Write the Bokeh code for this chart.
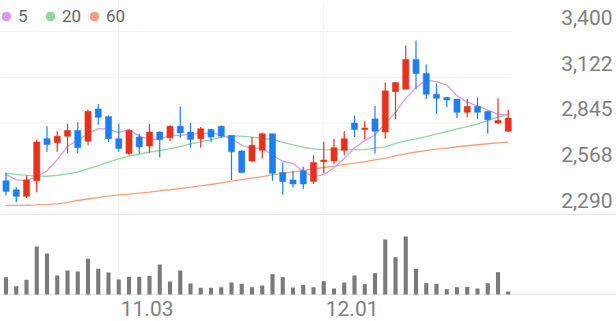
from bokeh.plotting import figure
from bokeh.models import Range1d, ColumnDataSource, Legend, LegendItem
from bokeh.core.properties import value
from bokeh.embed import file_html
from bokeh.resources import INLINE

# ---------------- data ----------------
opens = [2495, 2440, 2400, 2495, 2750, 2725, 2765, 2800, 2735, 2930,
         2885, 2750, 2660, 2760, 2705, 2790, 2755, 2825, 2790, 2750,
         2805, 2825, 2770, 2675, 2615, 2680, 2780, 2545, 2500, 2555,
         2490, 2610, 2615, 2680, 2845, 2805, 2870, 2790, 3035, 3050,
         3230, 3145, 3020, 3000, 2990, 2910, 2945, 2915, 2845, 2795]
highs = [2545, 2455, 2525, 2745, 2825, 2795, 2840, 2850, 2925, 2960,
         2890, 2840, 2805, 2780, 2840, 2795, 2830, 2945, 2845, 2820,
         2810, 2830, 2770, 2680, 2760, 2785, 2780, 2605, 2555, 2580,
         2650, 2730, 2750, 2795, 2890, 2855, 2950, 3090, 3090, 3315,
         3345, 3200, 3085, 3000, 2990, 2990, 3000, 2920, 2995, 2925]
lows = [2405, 2365, 2390, 2425, 2670, 2670, 2660, 2660, 2710, 2835,
        2730, 2670, 2650, 2660, 2665, 2635, 2735, 2755, 2695, 2695,
        2730, 2755, 2500, 2545, 2605, 2630, 2495, 2410, 2455, 2445,
        2475, 2540, 2595, 2650, 2760, 2745, 2660, 2750, 2870, 3050,
        3050, 2990, 2900, 2940, 2875, 2880, 2870, 2780, 2840, 2790]
closes = [2430, 2400, 2500, 2730, 2715, 2765, 2800, 2695, 2915, 2880,
          2750, 2690, 2800, 2700, 2790, 2745, 2825, 2785, 2745, 2810,
          2760, 2765, 2670, 2545, 2710, 2780, 2540, 2490, 2475, 2475,
          2605, 2620, 2695, 2750, 2805, 2815, 2795, 3040, 3090, 3230,
          3145, 3020, 2995, 2985, 2910, 2945, 2910, 2865, 2860, 2875]
volumes = [520, 250, 440, 1440, 1230, 570, 720, 690, 1070, 770,
           660, 450, 530, 530, 560, 900, 390, 720, 330, 200,
           200, 220, 360, 320, 220, 270, 610, 520, 210, 290,
           220, 400, 180, 360, 570, 310, 640, 1650, 1120, 1740,
           770, 340, 320, 160, 220, 230, 180, 340, 670, 90]
ma5 = [2533, 2500, 2496, 2520, 2555, 2622, 2702, 2741, 2778, 2811,
       2808, 2786, 2807, 2764, 2746, 2745, 2772, 2769, 2778, 2782,
       2785, 2773, 2750, 2710, 2690, 2694, 2649, 2613, 2599, 2552,
       2517, 2533, 2574, 2629, 2695, 2737, 2772, 2841, 2909, 2994,
       3060, 3105, 3096, 3075, 3011, 2971, 2949, 2923, 2898, 2891]
ma20 = [2540, 2533, 2527, 2523, 2522, 2527, 2537, 2548, 2567, 2587,
        2607, 2627, 2644, 2657, 2668, 2678, 2690, 2702, 2718, 2730,
        2742, 2760, 2766, 2765, 2759, 2751, 2745, 2728, 2713, 2698,
        2688, 2684, 2682, 2682, 2682, 2684, 2694, 2699, 2721, 2736,
        2749, 2763, 2779, 2793, 2809, 2823, 2840, 2860, 2880, 2894]
ma60 = [2345, 2345, 2346, 2348, 2351, 2355, 2363, 2375, 2384, 2393,
        2402, 2409, 2414, 2420, 2426, 2433, 2440, 2448, 2456, 2464,
        2472, 2482, 2492, 2502, 2511, 2520, 2530, 2539, 2548, 2557,
        2566, 2575, 2584, 2593, 2602, 2611, 2621, 2630, 2645, 2658,
        2669, 2678, 2686, 2693, 2701, 2707, 2713, 2719, 2724, 2729]
price_ticks = [2290, 2567.5, 2845, 3122.5, 3400]
price_tick_labels = ["2,290", "2,568", "2,845", "3,122", "3,400"]
date_tick_idx = [11, 31]
date_tick_labels = ["11.03", "12.01"]
ma_names = ["5", "20", "60"]

# ---------------- styling / layout ----------------
W, H = 616, 321
STEP, X0 = 10.25, 5.5
x_start = -X0 / STEP
x_end = (W - X0) / STEP
x_grid_end = (511 - X0) / STEP
UP, DOWN = "#e8311c", "#1c7ef0"
MA_COLORS = ["#d99cf2", "#8fd89b", "#f7a07a"]
FONT = "Roboto"

p = figure(width=W, height=H, output_backend="svg", toolbar_location=None,
           tools="", x_range=Range1d(x_start, x_end),
           y_range=Range1d(1641, 3588), min_border=0,
           x_axis_type=None, y_axis_type=None)
p.extra_y_ranges = {"vol": Range1d(-810, 8820)}
p.outline_line_color = None
p.background_fill_color = "white"
p.border_fill_color = "white"
p.grid.visible = False

n = len(closes)
xs = list(range(n))

# grid lines
lo = min(price_ticks)
p.segment(x0=[x_start] * len(price_ticks), y0=price_ticks,
          x1=[x_end if t == lo else x_grid_end for t in price_ticks], y1=price_ticks,
          line_color=["#e4e4e4" if t == lo else "#f0f0f0" for t in price_ticks],
          line_width=1)
p.segment(x0=date_tick_idx, y0=[0] * len(date_tick_idx), x1=date_tick_idx,
          y1=[8820] * len(date_tick_idx), y_range_name="vol",
          line_color="#f0f0f0", line_width=1)
p.segment(x0=[x_start], y0=[0], x1=[x_end], y1=[0], y_range_name="vol",
          line_color="#e4e4e4", line_width=1)

# volume
p.vbar(x=xs, width=0.4, top=volumes, bottom=0, y_range_name="vol",
       fill_color="#7a7a7a", line_color=None)

# moving averages
for vals, col in zip([ma60, ma20, ma5], MA_COLORS[::-1]):
    p.line(xs, vals, line_color=col, line_width=1.3)

# candles
colors = [UP if c >= o else DOWN for o, c in zip(opens, closes)]
src = ColumnDataSource(dict(x=xs, o=opens, h=highs, l=lows, c=closes,
                            top=[max(o, c) for o, c in zip(opens, closes)],
                            bot=[min(o, c) for o, c in zip(opens, closes)],
                            color=colors))
p.segment("x", "h", "x", "l", line_color="color", line_width=1.2, source=src)
p.vbar(x="x", width=0.6, top="top", bottom="bot", fill_color="color",
       line_color="color", line_width=0.5, source=src)

# price labels (right)
p.text(x=[x_end] * len(price_ticks), y=price_ticks, text=price_tick_labels,
       text_align="right", text_baseline="middle", x_offset=-4, y_offset=-14,
       text_font=value(FONT), text_font_size="21px", text_color="#7f7f7f")

# date labels (bottom)
p.text(x=date_tick_idx, y=[0] * len(date_tick_idx), text=date_tick_labels,
       y_range_name="vol", text_align="left", text_baseline="middle",
       x_offset=2, y_offset=14, text_font=value(FONT), text_font_size="21px",
       text_color="#7f7f7f")

# legend (marker-only renderers placed off-canvas so only the legend shows them)
items = []
for name, col in zip(ma_names, MA_COLORS):
    r = p.scatter(x=[x_start - 50], y=[0], marker="circle", size=9,
                  fill_color=col, line_color=None)
    items.append(LegendItem(label=name, renderers=[r]))
legend = Legend(items=items, orientation="horizontal", location=(-6, 293),
                glyph_width=24, glyph_height=24, label_standoff=-2, spacing=-2,
                padding=0, margin=0, border_line_color=None,
                background_fill_alpha=0, label_text_font=FONT,
                label_text_font_size="17px", label_text_color="#666666")
p.add_layout(legend)

open("out.html", "w").write(file_html(p, INLINE))
